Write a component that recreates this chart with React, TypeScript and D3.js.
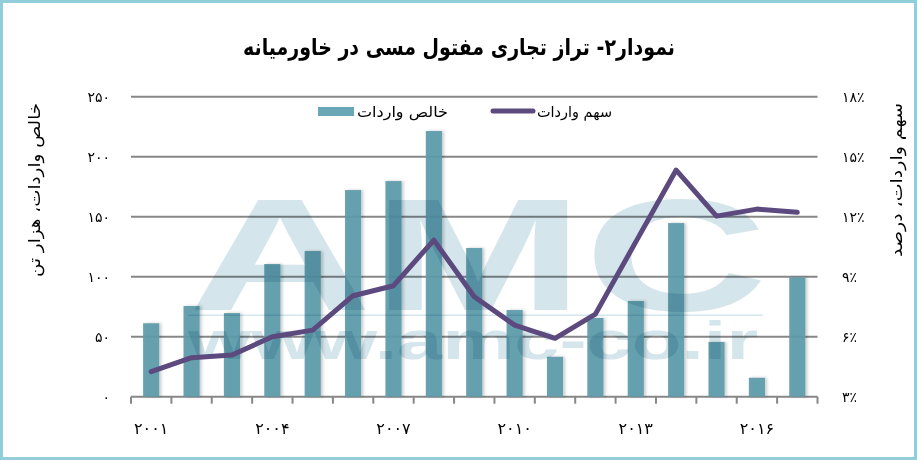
import React from "react";
import * as d3 from "d3";

const years = ["2001","2002","2003","2004","2005","2006","2007","2008","2009","2010","2011","2012","2013","2014","2015","2016","2017"];
const netImports = [61.2, 75.6, 69.7, 110.6, 121.4, 172.2, 179.7, 221.4, 123.9, 72.2, 33.3, 65.6, 79.7, 144.7, 45.6, 15.8, 99.5];
const importShare = [4.25, 4.95, 5.08, 6.0, 6.33, 8.05, 8.55, 10.83, 8.0, 6.58, 5.92, 7.13, 10.74, 14.33, 12.03, 12.38, 12.22];
const leftTicks = [0, 50, 100, 150, 200, 250];
const rightTicks = [3, 6, 9, 12, 15, 18];
const labeledYears = ["2001", "2004", "2007", "2010", "2013", "2016"];

const title = "نمودار۲- تراز تجاری مفتول مسی در خاورمیانه";
const leftTitle = "خالص واردات، هزار تن";
const rightTitle = "سهم واردات، درصد";
const barLegend = "خالص واردات";
const lineLegend = "سهم واردات";

const W = 917;
const H = 460;
const FA = "'DejaVu Sans', 'Noto Sans', sans-serif";

const toFa = (s: string | number) =>
  String(s).replace(/[0-9]/g, (d) => "۰۱۲۳۴۵۶۷۸۹"[+d]);

export default function App() {
  const left = 131;
  const right = 817.5;
  const top = 96.7;
  const bottom = 396.7;

  const x = d3.scaleBand<string>().domain(years).range([left, right]).paddingInner(0.6).paddingOuter(0.3);
  const yL = d3.scaleLinear().domain([0, 250]).range([bottom, top]);
  const yR = d3.scaleLinear().domain([3, 18]).range([bottom, top]);
  const step = x.step();
  const cx = (yr: string) => (x(yr) as number) + x.bandwidth() / 2;

  const line = d3
    .line<number>()
    .x((_, i) => cx(years[i]))
    .y((v) => yR(v));

  const boundaries = d3.range(years.length + 1).map((i) => left + i * step);

  return (
    <div style={{ position: "fixed", left: 0, top: 0 }}>
      <svg width={W} height={H} viewBox={`0 0 ${W} ${H}`} style={{ display: "block", background: "#fff" }}>
        <defs>
          <filter id="sh" x="-30%" y="-5%" width="170%" height="110%">
            <feDropShadow dx="2" dy="0" stdDeviation="1.5" floodColor="#000" floodOpacity="0.22" />
          </filter>
        </defs>
        <rect x={0} y={0} width={W} height={H} fill="#fff" />

        {/* title */}
        <text x={459} y={55} textAnchor="middle" fontFamily={FA} fontWeight="bold" fontSize={23}
          textLength={432} lengthAdjust="spacingAndGlyphs" fill="#000">{title}</text>

        {/* gridlines */}
        {leftTicks.map((t) => (
          <line key={t} x1={left} x2={right} y1={yL(t)} y2={yL(t)} stroke="#878787" strokeWidth={2} />
        ))}
        {/* x ticks */}
        {boundaries.map((bx, i) => (
          <line key={i} x1={bx} x2={bx} y1={bottom} y2={bottom + 7} stroke="#878787" strokeWidth={2} />
        ))}

        {/* bars */}
        <g filter="url(#sh)">
          {years.map((yr, i) => (
            <rect key={yr} x={x(yr)} y={yL(netImports[i])} width={x.bandwidth()}
              height={bottom - yL(netImports[i])} fill="#5e9bab" fillOpacity={0.93} />
          ))}
        </g>

        {/* watermark */}
        <g style={{ mixBlendMode: "multiply" }} fill="#d4e5eb">
          <text x={188} y={310} fontFamily="'Liberation Sans', Arial, sans-serif" fontWeight="bold"
            fontSize={160} textLength={580} lengthAdjust="spacingAndGlyphs">AMC</text>
          <rect x={188} y={314.5} width={575} height={1.5} />
          <text x={188} y={359} fontFamily="'Liberation Sans', Arial, sans-serif" fontWeight="bold"
            fontSize={54} textLength={570} lengthAdjust="spacingAndGlyphs">www.amc-co.ir</text>
        </g>

        {/* line */}
        <path d={line(importShare) || ""} fill="none" stroke="#5c4a7e" strokeWidth={5}
          strokeLinejoin="round" strokeLinecap="round" />

        {/* left axis labels */}
        {leftTicks.map((t) => (
          <text key={t} x={110} y={yL(t)} dy="0.35em" textAnchor="end" fontFamily={FA} fontSize={14} fill="#000">
            {toFa(t)}
          </text>
        ))}
        {/* right axis labels */}
        {rightTicks.map((t) => (
          <text key={t} x={842} y={yR(t)} dy="0.35em" textAnchor="start" fontFamily={FA} fontSize={14} fill="#000">
            {toFa(t) + "٪"}
          </text>
        ))}
        {/* x labels */}
        {labeledYears.map((yr) => (
          <text key={yr} x={cx(yr)} y={434} textAnchor="middle" fontFamily={FA} fontSize={16} fill="#000">
            {toFa(yr)}
          </text>
        ))}

        {/* axis titles */}
        <text transform="translate(40,190) rotate(-90)" textAnchor="middle" fontFamily={FA} fontSize={16}
          textLength={174} lengthAdjust="spacingAndGlyphs" fill="#000">{leftTitle}</text>
        <text transform="translate(902,180) rotate(-90)" textAnchor="middle" fontFamily={FA} fontSize={16}
          textLength={154} lengthAdjust="spacingAndGlyphs" fill="#000">{rightTitle}</text>

        {/* legend */}
        <rect x={318} y={107} width={36} height={9} fill="#6aa7b6" />
        <text x={357} y={117} fontFamily={FA} fontSize={15} textLength={91} lengthAdjust="spacingAndGlyphs" fill="#000">{barLegend}</text>
        <line x1={493} x2={533} y1={111} y2={111} stroke="#5c4a7e" strokeWidth={5} strokeLinecap="round" />
        <text x={537} y={117} fontFamily={FA} fontSize={15} textLength={75} lengthAdjust="spacingAndGlyphs" fill="#000">{lineLegend}</text>

        {/* frame */}
        <rect x={1.5} y={1.5} width={W - 3} height={H - 3} fill="none" stroke="#92cddc" strokeWidth={3} />
      </svg>
    </div>
  );
}
